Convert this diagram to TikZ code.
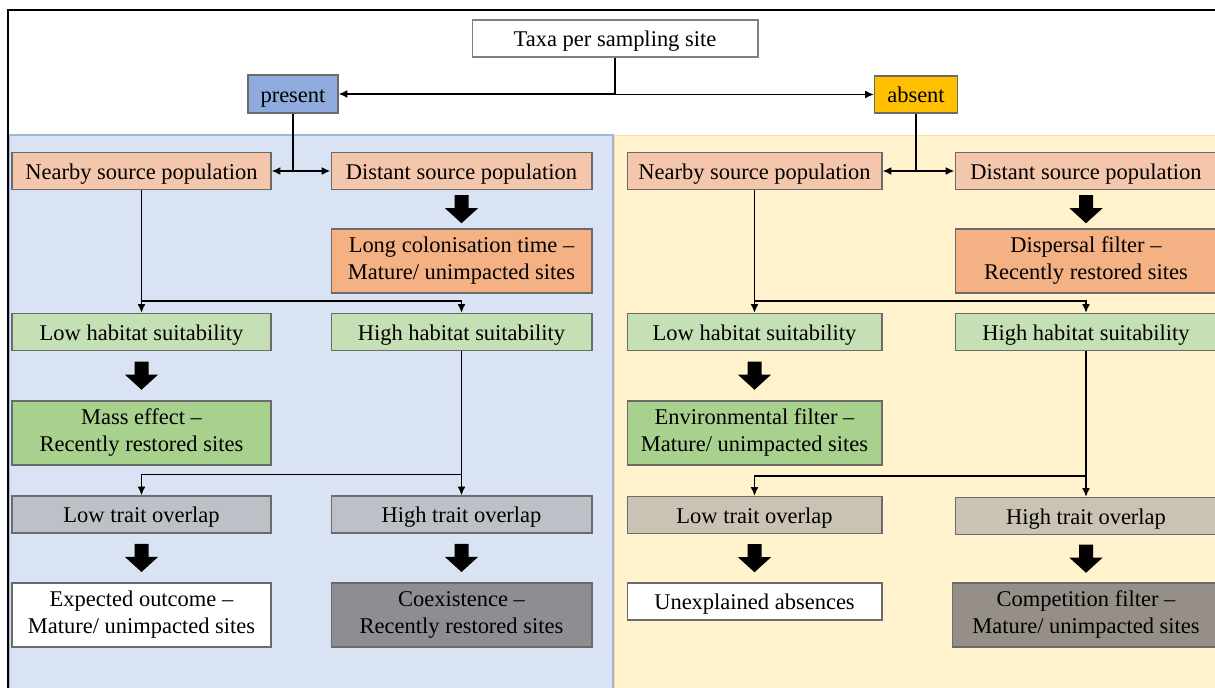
\documentclass[tikz,border=0pt]{standalone}
\usepackage{fontspec}
\setmainfont{Liberation Serif}
\usetikzlibrary{arrows.meta,calc}
\definecolor{panelblue}{HTML}{DAE3F3}
\definecolor{panelline}{HTML}{A3B5D6}
\definecolor{panelyellow}{HTML}{FFF2CC}
\definecolor{boxline}{HTML}{6B6B6B}
\definecolor{presblue}{HTML}{8FAADC}
\definecolor{absorange}{HTML}{FFC000}
\definecolor{srcpeach}{HTML}{F4C7AC}
\definecolor{longor}{HTML}{F4B183}
\definecolor{habgreen}{HTML}{C5E0B4}
\definecolor{massgreen}{HTML}{A9D18E}
\definecolor{traitblue}{HTML}{BDC0C6}
\definecolor{traityel}{HTML}{CAC3B3}
\definecolor{darkblue}{HTML}{8E8E92}
\definecolor{darkyel}{HTML}{958F88}
\tikzset{
  box/.style={draw=boxline, line width=0.6pt, inner sep=0pt, align=center,
    font=\fontsize{12.8}{15.5}\selectfont, minimum height=0.74cm,
    execute at begin node={\rule[-3pt]{0pt}{15.5pt}}},
  tall/.style={minimum height=1.28cm},
  wpa/.style={minimum width=5.18cm},
  wpb/.style={minimum width=5.22cm},
  waa/.style={minimum width=5.10cm},
  wab/.style={minimum width=5.24cm},
  link/.style={line width=1pt, -{Latex[length=5pt,width=4.5pt]}},
}
\begin{document}
\begin{tikzpicture}[x=0.02cm,y=-0.02cm,
  blk/.pic={\fill (-7,-14) -- (7,-14) -- (7,-1) -- (16.5,-1) -- (0,14) -- (-16.5,-1) -- (-7,-1) -- cycle;}]
\def\colA{141.5}
\def\colB{461.5}
\def\colC{754.5}
\def\colD{1086}
\useasboundingbox (0,0) rectangle (1215,688);
% panels and frame
\filldraw[fill=panelblue, draw=panelline, line width=0.6pt] (9,135) rectangle (613,700);
\filldraw[fill=panelyellow, draw=panelyellow!80!orange, line width=0.4pt] (614,135) rectangle (1230,700);
\draw[line width=1.2pt] (8,700) |- (1230,10);
% top
\node[box, draw=gray, fill=white, minimum width=5.72cm] (taxa) at (615,38.5) {Taxa per sampling site};
\node[box, fill=presblue, minimum width=1.8cm, minimum height=0.76cm] (pres) at (293,94) {present};
\node[box, fill=absorange, minimum width=1.66cm] (abs) at (916,94.5) {absent};
% present
\node[box, fill=srcpeach, wpa] (pnear) at (\colA,171) {Nearby source population};
\node[box, fill=srcpeach, wpb] (pdist) at (\colB,171) {Distant source population};
\node[box, tall, fill=longor, wpb] (plong) at (\colB,261) {Long colonisation time --\\Mature/ unimpacted sites};
\node[box, fill=habgreen, wpa] (plow) at (\colA,332) {Low habitat suitability};
\node[box, fill=habgreen, wpb] (phigh) at (\colB,332) {High habitat suitability};
\node[box, tall, fill=massgreen, wpa] (pmass) at (\colA,433) {Mass effect --\\Recently restored sites};
\node[box, fill=traitblue, wpa] (plowt) at (\colA,514.5) {Low trait overlap};
\node[box, fill=traitblue, wpb] (phight) at (\colB,514.5) {High trait overlap};
\node[box, tall, fill=white, wpa] (pexp) at (\colA,615) {Expected outcome --\\Mature/ unimpacted sites};
\node[box, tall, fill=darkblue, wpb] (pcoex) at (\colB,615) {Coexistence --\\Recently restored sites};
% absent
\node[box, fill=srcpeach, waa] (anear) at (\colC,171) {Nearby source population};
\node[box, fill=srcpeach, wab] (adist) at (\colD,171) {Distant source population};
\node[box, tall, fill=longor, wab] (adisp) at (\colD,261) {Dispersal filter --\\Recently restored sites};
\node[box, fill=habgreen, waa] (alow) at (\colC,332) {Low habitat suitability};
\node[box, fill=habgreen, wab] (ahigh) at (\colD,332) {High habitat suitability};
\node[box, tall, fill=massgreen, waa] (aenv) at (\colC,433) {Environmental filter --\\Mature/ unimpacted sites};
\node[box, fill=traityel, waa] (alowt) at (\colC,515) {Low trait overlap};
\node[box, fill=traityel, wab] (ahight) at (\colD,516) {High trait overlap};
\node[box, fill=white, waa] (aunex) at (\colC,601.5) {Unexplained absences};
\node[box, tall, fill=darkyel, minimum width=5.36cm] (acomp) at (\colD,615) {Competition filter --\\Mature/ unimpacted sites};
% connectors
\draw[link] (taxa.south) |- (pres.east);
\draw[link] (taxa.south) |- (abs.west);
\draw[link] (pres.south) |- (pnear.east);
\draw[link] (pres.south) |- (pdist.west);
\draw[link] (abs.south) |- (anear.east);
\draw[link] (abs.south) |- (adist.west);
\coordinate (pj1) at ([yshift=0.24cm]plow.north);
\coordinate (aj1) at ([yshift=0.24cm]alow.north);
\draw[link] (pnear.south) -- (plow.north);
\draw[link] (pj1) -| (phigh.north);
\draw[link] (anear.south) -- (alow.north);
\draw[link] (aj1) -| (ahigh.north);
\coordinate (pj2) at ([yshift=0.42cm]phight.north);
\coordinate (aj2) at ([yshift=0.42cm]ahight.north);
\draw[link] (phigh.south) -- (phight.north);
\draw[link] (pj2) -| (plowt.north);
\draw[link] (ahigh.south) -- (ahight.north);
\draw[link] (aj2) -| (alowt.north);
% block arrows
\path ($(pdist.south)!0.5!(plong.north)$) pic {blk};
\path ($(plow.south)!0.5!(pmass.north)$) pic {blk};
\path ($(plowt.south)!0.5!(pexp.north)$) pic {blk};
\path ($(phight.south)!0.5!(pcoex.north)$) pic {blk};
\path ($(adist.south)!0.5!(adisp.north)$) pic {blk};
\path ($(alow.south)!0.5!(aenv.north)$) pic {blk};
\path ($(alowt.south)!0.5!(aunex.north)$) pic {blk};
\path ($(ahight.south)!0.5!(acomp.north)$) pic {blk};
\end{tikzpicture}
\end{document}
